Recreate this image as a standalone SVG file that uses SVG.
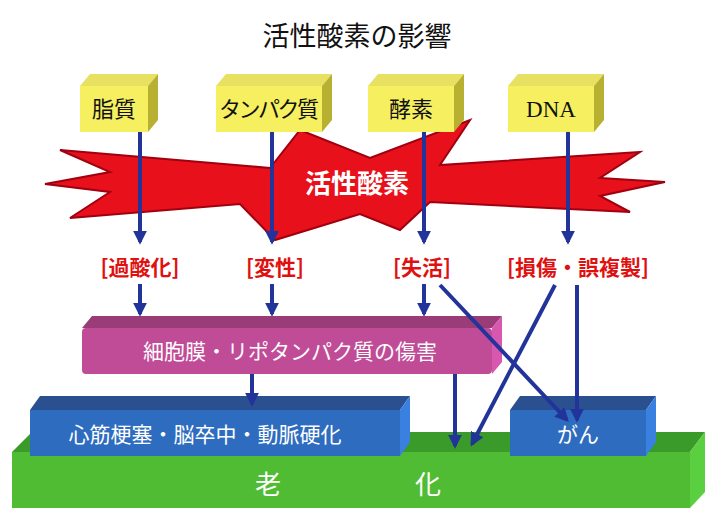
<svg xmlns="http://www.w3.org/2000/svg" width="714" height="520" viewBox="0 0 714 520">
<style>
text{font-family:"Noto Sans CJK JP","Noto Sans",sans-serif;text-anchor:middle}
.yl{font-size:22px;fill:#111}
.rl{font-size:21px;fill:#e01010;font-weight:bold}
.wl{font-size:21px;fill:#fff}
.ar{stroke:#22339a;stroke-width:4;fill:none;marker-end:url(#ah)}
</style>
<defs>
<marker id="ah" viewBox="0 0 10 10" refX="8" refY="5" markerWidth="3.5" markerHeight="3.5" orient="auto"><path d="M0,0L10,5L0,10z" fill="#22339a"/></marker>
</defs>
<rect width="714" height="520" fill="#fff"/>
<text x="357" y="46" style="font-size:27px;fill:#111">活性酸素の影響</text>
<g id="radical">
<polygon points="60,150 270,168 300,130 370,158 470,120 440,165 640,152 600,178 665,182 600,196 630,212 430,202 400,230 360,214 275,240 240,204 70,218 110,192 45,184 110,172" fill="#e8101a" stroke="#a00010" stroke-width="2"/>
<text x="357" y="193" style="font-size:26px;fill:#fff;font-weight:bold">活性酸素</text>
</g>
<g id="n-lipid"><polygon points="80,86 90,74 158,74 148,86" fill="#e8e060"/><polygon points="148,86 158,74 158,120 148,132" fill="#b8b030"/><rect x="80" y="86" width="68" height="46" fill="#f6f060"/><text class="yl" x="114" y="117">脂質</text></g>
<g id="n-protein"><polygon points="216,86 226,74 332,74 322,86" fill="#e8e060"/><polygon points="322,86 332,74 332,120 322,132" fill="#b8b030"/><rect x="216" y="86" width="106" height="46" fill="#f6f060"/><text class="yl" x="269" y="117" textLength="100">タンパク質</text></g>
<g id="n-enzyme"><polygon points="368,86 378,74 464,74 454,86" fill="#e8e060"/><polygon points="454,86 464,74 464,120 454,132" fill="#b8b030"/><rect x="368" y="86" width="86" height="46" fill="#f6f060"/><text class="yl" x="411" y="117">酵素</text></g>
<g id="n-dna"><polygon points="508,86 518,74 604,74 594,86" fill="#e8e060"/><polygon points="594,86 604,74 604,120 594,132" fill="#b8b030"/><rect x="508" y="86" width="86" height="46" fill="#f6f060"/><text x="551" y="117" style="font-family:'Liberation Serif',serif;font-size:23px;fill:#111">DNA</text></g>
<text class="rl" x="140" y="275">[過酸化]</text>
<text class="rl" x="275" y="275">[変性]</text>
<text class="rl" x="422" y="275">[失活]</text>
<text class="rl" x="578" y="275">[損傷・誤複製]</text>
<g id="n-aging"><polygon points="12,452 32,432 705,432 690,452" fill="#3a9a2a"/><polygon points="690,452 705,432 705,492 690,508" fill="#5ad040"/><rect x="12" y="452" width="678" height="56" fill="#50bc34"/><text class="wl" x="268" y="494" style="font-size:26px">老</text><text class="wl" x="428" y="494" style="font-size:26px">化</text></g>
<g id="n-cell"><polygon points="82,328 92,316 502,316 492,328" fill="#9a3c78"/><polygon points="492,328 502,316 502,362 492,374" fill="#d858b0"/><rect x="82" y="328" width="410" height="46" rx="4" fill="#c04c98"/><text class="wl" x="290" y="359">細胞膜・リポタンパク質の傷害</text></g>
<g id="n-cardio"><polygon points="30,410 40,396 410,396 400,410" fill="#2a5090"/><polygon points="400,410 410,396 410,442 400,456" fill="#3a80e0"/><rect x="30" y="410" width="370" height="46" fill="#2e6cc0"/><text class="wl" x="205" y="442">心筋梗塞・脳卒中・動脈硬化</text></g>
<g id="n-cancer"><polygon points="510,410 520,396 656,396 646,410" fill="#2a5090"/><polygon points="646,410 656,396 656,442 646,456" fill="#3a80e0"/><rect x="510" y="410" width="136" height="46" fill="#2e6cc0"/><text class="wl" x="578" y="442">がん</text></g>
<g id="connectors">
<line class="ar" x1="140" y1="132" x2="140" y2="242"/>
<line class="ar" x1="272" y1="132" x2="272" y2="242"/>
<line class="ar" x1="424" y1="132" x2="424" y2="242"/>
<line class="ar" x1="568" y1="132" x2="568" y2="242"/>
<line class="ar" x1="140" y1="284" x2="140" y2="314"/>
<line class="ar" x1="272" y1="284" x2="272" y2="314"/>
<line class="ar" x1="424" y1="284" x2="424" y2="314"/>
<line class="ar" x1="440" y1="285" x2="567" y2="420"/>
<line class="ar" x1="555" y1="285" x2="472" y2="444"/>
<line class="ar" x1="577" y1="285" x2="577" y2="420"/>
<line class="ar" x1="252" y1="374" x2="252" y2="404"/>
<line class="ar" x1="455" y1="374" x2="455" y2="446"/>
</g>
</svg>
